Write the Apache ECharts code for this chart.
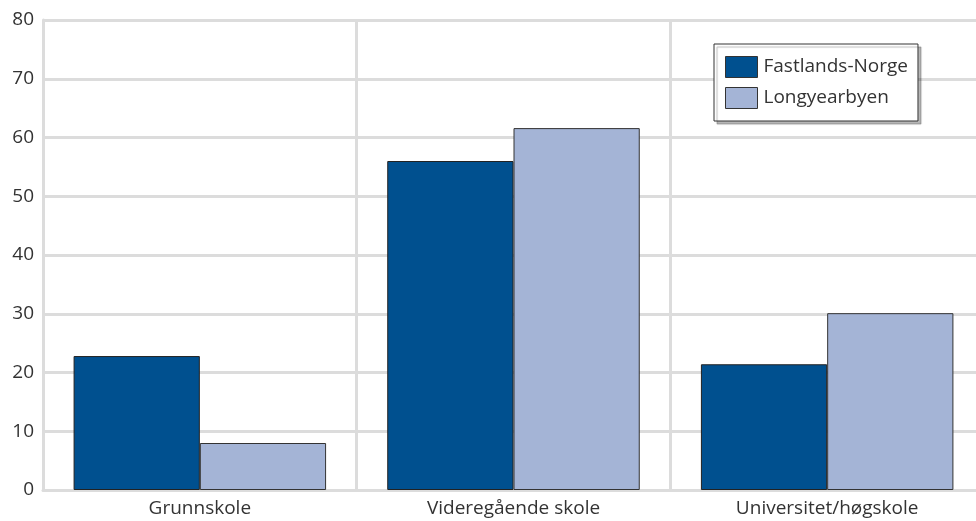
<!DOCTYPE html>
<html>
<head>
<meta charset="utf-8">
<script src="https://cdn.jsdelivr.net/npm/echarts@6/dist/echarts.min.js"></script>
<style>
  html, body { margin: 0; padding: 0; background: #fff; overflow: hidden; }
  #main { width: 992px; height: 521px; }
</style>
</head>
<body>
<div id="main"></div>
<script>
var categories = ['Grunnskole', 'Videregående skole', 'Universitet/høgskole'];
var seriesNames = ['Fastlands-Norge', 'Longyearbyen'];
var fastland = [22.8, 56.0, 21.4];
var longyear = [8.0, 61.6, 30.1];
var yTicks = { min: 0, max: 80, interval: 10 };

var chart = echarts.init(document.getElementById('main'));
var font = '"Open Sans", "Noto Sans", sans-serif';
var option = {
    animation: false,
    textStyle: { fontFamily: font },
    // plot runs past the right edge of the picture, like the original
    grid: { left: 43, top: 20, width: 941, height: 470, containLabel: false },
    legend: {
        orient: 'vertical',
        left: 714,
        top: 44,
        data: seriesNames,
        icon: 'rect',
        itemWidth: 32,
        itemHeight: 21,
        itemGap: 9,
        padding: [12, 10, 12, 11],
        backgroundColor: '#fff',
        borderColor: '#333',
        borderWidth: 1,
        shadowColor: 'rgba(0,0,0,0.28)',
        shadowBlur: 1,
        shadowOffsetX: 3,
        shadowOffsetY: 3,
        textStyle: { fontSize: 19, color: '#333', fontFamily: font, padding: [0, 0, 0, 1] },
        itemStyle: { borderColor: '#333', borderWidth: 1 }
    },
    xAxis: {
        type: 'category',
        data: categories,
        axisLine: { show: true, lineStyle: { color: '#dcdcdc', width: 3 } },
        axisTick: { show: false },
        axisLabel: { fontSize: 19, color: '#333', margin: 9 },
        splitLine: { show: true, lineStyle: { color: '#dcdcdc', width: 3 } }
    },
    yAxis: {
        type: 'value',
        min: yTicks.min,
        max: yTicks.max,
        interval: yTicks.interval,
        axisLine: { show: true, lineStyle: { color: '#dcdcdc', width: 3 } },
        axisTick: { show: false },
        axisLabel: { fontSize: 19, color: '#333', margin: 9 },
        splitLine: { show: true, lineStyle: { color: '#dcdcdc', width: 3 } }
    },
    series: [{
        name: seriesNames[0],
        type: 'bar',
        data: fastland,
        barGap: '0%',
        barCategoryGap: '19.5%',
        itemStyle: { color: '#00508f', borderColor: '#222', borderWidth: 1 }
    }, {
        name: seriesNames[1],
        type: 'bar',
        data: longyear,
        itemStyle: { color: '#a4b4d6', borderColor: '#333', borderWidth: 1 }
    }]
};
chart.setOption(option);
</script>
</body>
</html>
